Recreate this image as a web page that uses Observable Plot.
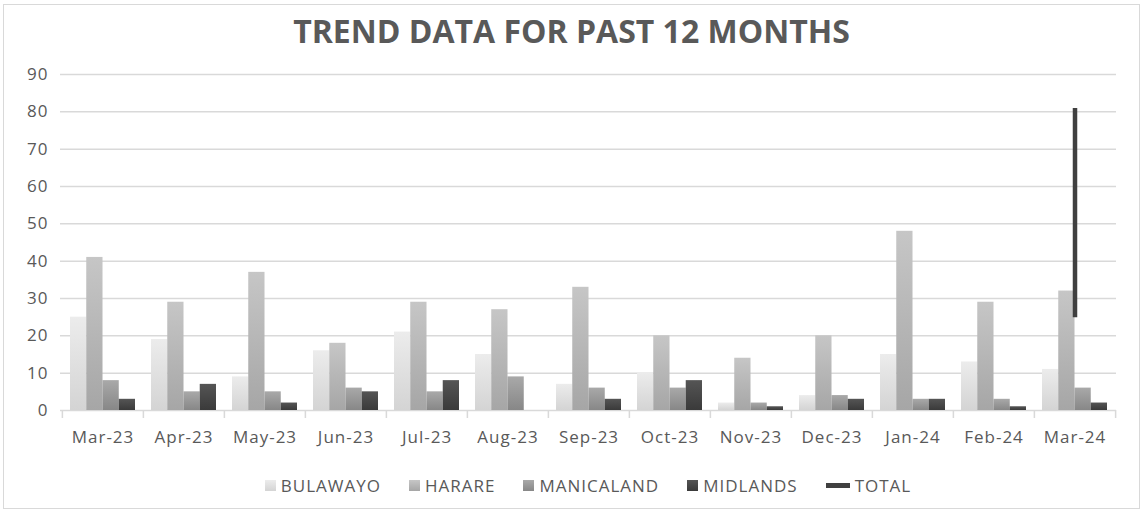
<!DOCTYPE html>
<html>
<head>
<meta charset="utf-8">
<script src="https://cdn.jsdelivr.net/npm/d3@7"></script>
<script src="https://cdn.jsdelivr.net/npm/@observablehq/plot@0.6"></script>
<style>
  body { margin: 0; background: #fff; }
  #chart { position: absolute; left: 3px; top: 4px; width: 1137px; height: 505px; border: 1px solid #d9d9d9; box-sizing: border-box; background: #fff; }
  #title { height: 52px; line-height: 52px; text-align: center; font-family: "Open Sans", sans-serif; font-weight: 700; font-size: 32px; color: #595959; white-space: nowrap; }
  #legend { height: 56px; display: flex; align-items: center; justify-content: center; padding-left: 56px; padding-right: 23px; gap: 28px; font-family: "Open Sans", sans-serif; font-size: 17px; letter-spacing: 1px; color: #595959; }
  .item { display: flex; align-items: center; gap: 5px; }
  #plot svg { display: block; }
</style>
</head>
<body>
<svg width="0" height="0" style="position:absolute">
  <defs>
    <linearGradient id="gBUL" x1="0" y1="0" x2="0" y2="1"><stop offset="0" stop-color="#ececec"/><stop offset="1" stop-color="#d4d4d4"/></linearGradient>
    <linearGradient id="gHAR" x1="0" y1="0" x2="0" y2="1"><stop offset="0" stop-color="#c6c6c6"/><stop offset="1" stop-color="#a6a6a6"/></linearGradient>
    <linearGradient id="gMAN" x1="0" y1="0" x2="0" y2="1"><stop offset="0" stop-color="#a9a9a9"/><stop offset="1" stop-color="#878787"/></linearGradient>
    <linearGradient id="gMID" x1="0" y1="0" x2="0" y2="1"><stop offset="0" stop-color="#555555"/><stop offset="1" stop-color="#3a3a3a"/></linearGradient>
  </defs>
</svg>
<div id="chart">
  <div id="title">TREND DATA FOR PAST 12 MONTHS</div>
  <div id="plot"></div>
  <div id="legend"></div>
</div>
<script>
const months = ["Mar-23","Apr-23","May-23","Jun-23","Jul-23","Aug-23","Sep-23","Oct-23","Nov-23","Dec-23","Jan-24","Feb-24","Mar-24"];
const seriesNames = ["BULAWAYO","HARARE","MANICALAND","MIDLANDS"];
const bulawayo   = [25, 19,  9, 16, 21, 15,  7, 10,  2,  4, 15, 13, 11];
const harare     = [41, 29, 37, 18, 29, 27, 33, 20, 14, 20, 48, 29, 32];
const manicaland = [ 8,  5,  5,  6,  5,  9,  6,  6,  2,  4,  3,  3,  6];
const midlands   = [ 3,  7,  2,  5,  8,  0,  3,  8,  1,  3,  3,  1,  2];
const totalMonths = ["Mar-24","Mar-24"];
const totalValues = [81, 25];
const yTicks = [0,10,20,30,40,50,60,70,80,90];
const gradientIds = ["gBUL","gHAR","gMAN","gMID"];

const seriesValues = [bulawayo, harare, manicaland, midlands];
const rows = seriesNames.map((s, i) => months.map((m, j) => ({series: s, month: m, value: seriesValues[i][j]})));
const totalRows = totalMonths.map((m, i) => ({month: m, value: totalValues[i]}));

const width = 1135, height = 400;
const marginLeft = 56, marginRight = 23, marginTop = 17, marginBottom = 47;
const plotW = width - marginLeft - marginRight;
const step = plotW / months.length;
const bandW = step * 0.8;
const sub = bandW / seriesNames.length;

const barMarks = rows.map((data, i) => Plot.barY(data, {
  x: "month", y: "value", fill: `url(#${gradientIds[i]})`,
  insetLeft: i * sub, insetRight: (seriesNames.length - 1 - i) * sub
}));

const chart = Plot.plot({
  width, height, marginLeft, marginRight, marginTop, marginBottom,
  style: {fontFamily: "Open Sans, sans-serif", fontSize: "17px", letterSpacing: "1px", color: "#595959", background: "transparent"},
  x: {type: "band", domain: months, paddingInner: 0.2, paddingOuter: 0.1, label: null},
  y: {domain: [0, 90], label: null},
  marks: [
    Plot.gridY(yTicks, {stroke: "#d9d9d9", strokeOpacity: 1, strokeWidth: 1.5}),
    Plot.axisY(yTicks, {tickSize: 0, tickPadding: 12, label: null, fontSize: 17}),
    Plot.axisX({tickSize: 0, tickPadding: 20, label: null, fontSize: 17}),
    Plot.ruleX(months, {x: d => d, y1: 0, y2: 0, insetBottom: -8, dx: -step / 2, stroke: "#d9d9d9", strokeWidth: 1.5}),
    Plot.ruleX(months.slice(-1), {x: d => d, y1: 0, y2: 0, insetBottom: -8, dx: step / 2, stroke: "#d9d9d9", strokeWidth: 1.5}),
    ...barMarks,
    Plot.line(totalRows, {x: "month", y: "value", stroke: "#404040", strokeWidth: 4.5, strokeLinecap: "butt"})
  ]
});
document.getElementById("plot").appendChild(chart);

const legend = document.getElementById("legend");
seriesNames.forEach((s, i) => {
  const item = document.createElement("div");
  item.className = "item";
  item.innerHTML = `<svg width="11" height="11"><rect width="11" height="11" fill="url(#${gradientIds[i]})"/></svg><span>${s}</span>`;
  legend.appendChild(item);
});
const tot = document.createElement("div");
tot.className = "item";
tot.innerHTML = `<svg width="24" height="5"><rect width="24" height="5" fill="#404040"/></svg><span>TOTAL</span>`;
legend.appendChild(tot);
</script>
</body>
</html>
